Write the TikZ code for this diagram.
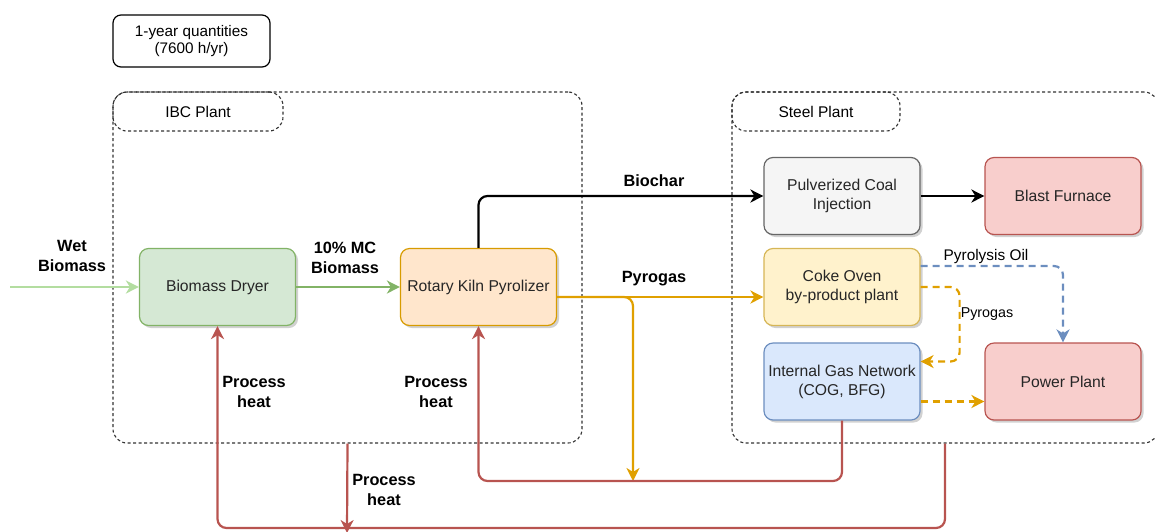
\documentclass[tikz,border=0pt]{standalone}
\usepackage{fontspec}
\setmainfont{Liberation Sans}
\usepackage{tikz}
\usetikzlibrary{arrows.meta}
\usetikzlibrary{shadows}
\usetikzlibrary{positioning}

\definecolor{greenfill}{HTML}{D5E8D4}\definecolor{greendraw}{HTML}{82B366}
\definecolor{orangefill}{HTML}{FFE6CC}\definecolor{orangedraw}{HTML}{D79B00}
\definecolor{grayfill}{HTML}{F5F5F5}\definecolor{graydraw}{HTML}{666666}
\definecolor{redfill}{HTML}{F8CECC}\definecolor{reddraw}{HTML}{B85450}
\definecolor{yellowfill}{HTML}{FFF2CC}\definecolor{yellowdraw}{HTML}{D6B656}
\definecolor{bluefill}{HTML}{DAE8FC}\definecolor{bluedraw}{HTML}{6C8EBF}
\definecolor{wetgreen}{HTML}{B3DDA0}
\definecolor{pyrocol}{HTML}{E0A000}

\begin{document}
\begin{tikzpicture}[x=1pt,y=-1pt,>={Stealth[length=13pt,width=13pt,inset=4pt]},
    unit node/.style={rectangle,rounded corners=9pt,draw,line width=1.2pt,minimum width=156pt,minimum height=77pt,
      align=center,text=black!85,font=\fontsize{15.7}{19}\selectfont,
      drop shadow={shadow xshift=2.5pt,shadow yshift=-2.5pt,opacity=0.3,fill=black!60}},
    group node/.style={rectangle,rounded corners=14pt,draw=black!80,line width=1.1pt,dash pattern=on 3pt off 2.5pt},
    label node/.style={align=center,font=\bfseries\fontsize{16.3}{20}\selectfont},
    flow/.style={line width=2.2pt,rounded corners=9pt},
    heat/.style={flow,draw=reddraw},
    pyro/.style={flow,draw=pyrocol},
    side line/.style={line width=2.2pt,rounded corners=9pt,dash pattern=on 7pt off 5pt}]
  \useasboundingbox (0,0) rectangle (1155,531);
  \clip (0,0) rectangle (1155,531);

  % containers
  \node[group node,minimum width=469pt,minimum height=351pt] (ibc) at (347.5,267.5) {};
  \node[group node,minimum width=170pt,minimum height=39pt] (ibclabel) at (198,111.5) {};
  \node[font=\fontsize{15.5}{18}\selectfont] at (ibclabel) {IBC Plant};
  \node[group node,minimum width=426pt,minimum height=351pt] (steel) at (945,267.5) {};
  \node[group node,minimum width=168pt,minimum height=39pt] (steellabel) at (816,111.5) {};
  \node[font=\fontsize{15.5}{18}\selectfont] at (steellabel) {Steel Plant};

  \node[rectangle,rounded corners=8pt,draw,line width=1.2pt,minimum width=157pt,minimum height=52pt,align=center,
    font=\fontsize{15.3}{17.5}\selectfont] (year) at (191.5,41) {1-year quantities\\(7600 h/yr)};

  % units
  \node[unit node,fill=greenfill,draw=greendraw] (dryer) at (217.5,287) {Biomass Dryer};
  \node[unit node,fill=orangefill,draw=orangedraw] (kiln) at (478.5,287) {Rotary Kiln Pyrolizer};
  \node[unit node,fill=grayfill,draw=graydraw] (pci) at (842,196) {Pulverized Coal\\Injection};
  \node[unit node,fill=redfill,draw=reddraw] (bf) at (1063,196) {Blast Furnace};
  \node[unit node,fill=yellowfill,draw=yellowdraw] (coke) at (842,287) {Coke Oven\\by-product plant};
  \node[unit node,fill=bluefill,draw=bluedraw] (ign) at (842,381.5) {Internal Gas Network\\(COG, BFG)};
  \node[unit node,fill=redfill,draw=reddraw] (pp) at (1063,381.5) {Power Plant};

  \coordinate (wetin) at (10,287);
  \coordinate (loop) at (0,481);
  \coordinate (bottom) at (0,528);
  \coordinate (branch) at (633,481);
  \coordinate (ibcheat) at (347,531);

  % biomass line
  \draw[->,line width=2.2pt,wetgreen] (wetin) -- (dryer.west);
  \draw[->,line width=2.2pt,greendraw] (dryer) -- (kiln);
  \node[label node] at (72,256) {Wet\\Biomass};
  \node[label node] at (345,258) {10\% MC\\Biomass};

  % biochar
  \draw[->,flow] (kiln.north) |- (pci.west);
  \draw[->,flow] (pci) -- (bf);
  \node[label node] at (654,181) {Biochar};

  % pyrogas
  \draw[->,pyro] ([yshift=-10pt]kiln.east) -- ([yshift=-10pt]coke.west);
  \draw[->,pyro] ([yshift=-10pt]kiln.east) -| (branch);
  \node[label node] at (654,279) {Pyrogas};

  % process heat
  \draw[->,heat] (ign.south) |- (kiln.south |- loop) -- (kiln.south);
  \draw[->,heat] (steel.south) |- (dryer.south |- bottom) -- (dryer.south);
  \draw[->,heat,shorten >=-2pt] (ibc.south) -- (ibcheat);
  \node[label node] at (254,392) {Process\\heat};
  \node[label node] at (436,392) {Process\\heat};
  \node[label node] at (384,490) {Process\\heat};

  % steel plant side flows
  \draw[->,side line,pyrocol] (coke.east) -- ++(39,0) |- ([yshift=20pt]ign.east);
  \draw[->,side line,bluedraw] ([yshift=21pt]coke.east) -| (pp.north);
  \draw[->,side line,pyrocol] ([yshift=-20pt]ign.east) -- ([yshift=-20pt]pp.west);
  \node[font=\fontsize{14.3}{17}\selectfont] at (987,314) {Pyrogas};
  \node[font=\fontsize{15.4}{18}\selectfont] at (986,257) {Pyrolysis Oil};
\end{tikzpicture}
\end{document}
